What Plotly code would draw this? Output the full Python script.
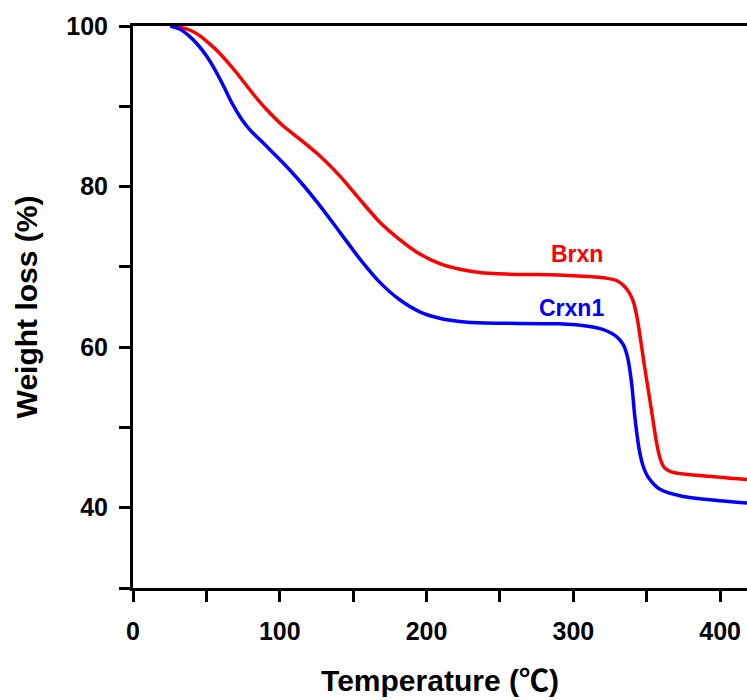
import plotly.graph_objects as go

# TGA curves: temperature (°C) vs remaining weight (%)
brxn_temp = [25.5, 32, 38.6, 45.4, 52, 58, 64, 70, 76, 82, 91, 102, 113.7,
             127.4, 141, 154.5, 168, 181.7, 195.4, 209, 222.6, 236, 254,
             290, 310, 322, 329.4, 334, 338, 341, 343.5, 345.5, 348.5, 353,
             356.5, 359, 362, 368, 386, 418.3]
brxn_weight = [100, 99.85, 99.5, 98.8, 97.8, 96.8, 95.6, 94.3, 92.9, 91.5, 89.6, 87.6, 85.9,
               83.8, 81.3, 78.4, 75.6, 73.4, 71.6, 70.4, 69.7, 69.3, 69.1,
               69.0, 68.8, 68.6, 68.3, 67.7, 66.8, 65.6, 63.6, 61.3, 57.6, 52.4,
               48.3, 46.2, 45.0, 44.4, 44.0, 43.5]

crxn1_temp = [25.5, 32, 38, 44, 50, 56, 62, 68, 74, 80, 90, 102, 114,
              127.4, 141, 154.5, 168, 181.7, 195.4, 209, 222.6, 240, 290,
              310, 320, 329.4, 334, 337, 339.7, 341.9, 344.9, 347.5, 351, 359,
              374.9, 393, 418.3]
crxn1_weight = [100, 99.6, 98.8, 97.7, 96.3, 94.5, 92.4, 90.2, 88.4, 87.0, 85.2, 83.0, 80.6,
                77.6, 74.3, 71.0, 68.1, 65.9, 64.4, 63.6, 63.2, 63.0, 62.9,
                62.6, 62.2, 61.3, 60.3, 58.7, 55.5, 51.3, 47.2, 45.2, 43.8, 42.3,
                41.4, 41.0, 40.6]

x_ticks = [0, 50, 100, 150, 200, 250, 300, 350, 400]
x_labels = ["0", "", "100", "", "200", "", "300", "", "400"]
y_ticks = [30, 40, 50, 60, 70, 80, 90, 100]
y_labels = ["", "40", "", "60", "", "80", "", "100"]

FONT = "Liberation Sans, Arial, Noto Sans CJK SC, sans-serif"
RED = "#FF0000"
BLUE = "#0000FF"

fig = go.Figure()
fig.add_trace(go.Scatter(x=brxn_temp, y=brxn_weight, mode="lines", name="Brxn",
                         line=dict(color=RED, width=3.5, shape="spline", smoothing=0.8)))
fig.add_trace(go.Scatter(x=crxn1_temp, y=crxn1_weight, mode="lines", name="Crxn1",
                         line=dict(color=BLUE, width=3.5, shape="spline", smoothing=0.8)))

fig.add_annotation(x=302.4, y=71.6, text="Brxn", showarrow=False,
                   font=dict(family=FONT, size=23, color=RED, weight="bold"))
fig.add_annotation(x=299, y=64.9, text="Crxn1", showarrow=False,
                   font=dict(family=FONT, size=23, color=BLUE, weight="bold"))

axis_common = dict(
    showgrid=False, zeroline=False, showline=True, linecolor="black", linewidth=3,
    ticks="outside", ticklen=11, tickwidth=3, tickcolor="black",
    tickfont=dict(family=FONT, size=25, color="black", weight="bold"),
)

fig.update_xaxes(
    range=[0, 418.3], tickmode="array", tickvals=x_ticks, ticktext=x_labels,
    mirror=True, ticklabelstandoff=8,
    title=dict(text="Temperature (<span style='font-family:Noto Sans CJK SC'>℃</span>)",
               standoff=26,
               font=dict(family=FONT, size=30, color="black", weight="bold")),
    **axis_common,
)
fig.update_yaxes(
    range=[30, 100], tickmode="array", tickvals=y_ticks, ticktext=y_labels,
    ticklabelstandoff=6,
    title=dict(text="Weight loss (%)", standoff=20,
               font=dict(family=FONT, size=30, color="black", weight="bold")),
    **axis_common,
)

fig.update_layout(
    width=747, height=700,
    margin=dict(l=133, r=0, t=26, b=112),
    plot_bgcolor="white", paper_bgcolor="white",
    showlegend=False,
)

fig.write_html("out.html", config={"displayModeBar": False})
